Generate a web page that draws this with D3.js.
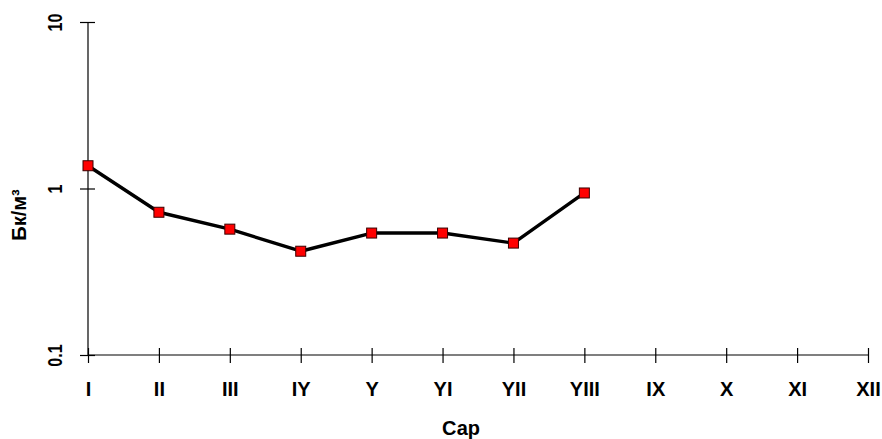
<!DOCTYPE html>
<html>
<head>
<meta charset="utf-8">
<script src="https://cdn.jsdelivr.net/npm/d3@7"></script>
<style>
  html, body { margin: 0; padding: 0; background: #fff; }
  svg text { font-family: "Liberation Sans", Arial, sans-serif; font-weight: bold; fill: #000; }
</style>
</head>
<body>
<svg id="chart" width="882" height="439"></svg>
<script>
// Monthly activity concentration (Bq/m³), log scale
const months = ["I", "II", "III", "IY", "Y", "YI", "YII", "YIII", "IX", "X", "XI", "XII"];
const values = [1.37, 0.72, 0.57, 0.42, 0.54, 0.54, 0.47, 0.94];
const yTicks = [0.1, 1, 10];
const yTickLabels = ["0.1", "1", "10"];
const xTitle = "Сар";
const yTitle = "Бк/м³";

const svg = d3.select("#chart");
const x = d3.scalePoint().domain(months).range([88, 868]);
const y = d3.scaleLog().domain([0.1, 10]).range([355, 22]);

const FONT = "'Liberation Sans', Arial, sans-serif";

// x axis: ticks cross the axis line on both sides
const xAxis = svg.append("g").attr("transform", "translate(0,355)")
  .call(d3.axisBottom(x).tickSizeInner(8).tickSizeOuter(0));
xAxis.selectAll(".tick line").attr("y1", -7).attr("y2", 8);
xAxis.select(".domain").attr("d", `M${x("I")},0H${x("XII")}`);
xAxis.selectAll(".tick text")
  .attr("font-size", 20).attr("font-family", FONT).attr("font-weight", "bold")
  .attr("fill", "#000").attr("y", 41).attr("dy", null);

// y axis
const yAxis = svg.append("g").attr("transform", "translate(88,0)")
  .call(d3.axisLeft(y).tickValues(yTicks).tickFormat((d, i) => yTickLabels[i])
    .tickSizeInner(8).tickSizeOuter(0));
yAxis.selectAll(".tick line").attr("x1", -8).attr("x2", 7);
yAxis.select(".domain").attr("d", `M0,${y(10)}V${y(0.1)}`);
yAxis.selectAll(".tick text")
  .attr("font-size", 20).attr("font-family", FONT).attr("font-weight", "bold")
  .attr("fill", "#000").attr("text-anchor", "middle")
  .attr("x", null).attr("dy", null)
  .attr("transform", "translate(-26,0) rotate(-90) scale(0.8,1)");

svg.selectAll(".domain, .tick line").attr("stroke", "#000").attr("stroke-width", 1.2);

// axis titles
svg.append("text")
  .attr("x", 461).attr("y", 435)
  .attr("text-anchor", "middle").attr("font-size", 20)
  .text(xTitle);

svg.append("text")
  .attr("transform", "translate(26,215) rotate(-90)")
  .attr("text-anchor", "middle").attr("font-size", 20)
  .text(yTitle);

// series line and markers
const pts = values.map((v, i) => ({ m: months[i], v }));
svg.append("path").datum(pts)
  .attr("fill", "none").attr("stroke", "#000").attr("stroke-width", 3.4)
  .attr("stroke-linejoin", "round")
  .attr("d", d3.line().x(d => x(d.m)).y(d => y(d.v)));

svg.selectAll("rect.mk").data(pts).enter().append("rect")
  .attr("class", "mk")
  .attr("x", d => x(d.m) - 5).attr("y", d => y(d.v) - 5)
  .attr("width", 10).attr("height", 10)
  .attr("fill", "#ff0000").attr("stroke", "#3a0000").attr("stroke-width", 1);
</script>
</body>
</html>
